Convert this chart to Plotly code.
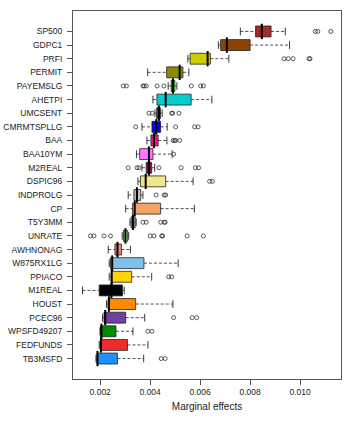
import plotly.graph_objects as go

# Variablen (von oben nach unten)
names = ['SP500', 'GDPC1', 'PRFI', 'PERMIT', 'PAYEMSLG', 'AHETPI', 'UMCSENT', 'CMRMTSPLLG',
         'BAA', 'BAA10YM', 'M2REAL', 'DSPIC96', 'INDPROLG', 'CP', 'T5Y3MM', 'UNRATE',
         'AWHNONAG', 'W875RX1LG', 'PPIACO', 'M1REAL', 'HOUST', 'PCEC96', 'WPSFD49207',
         'FEDFUNDS', 'TB3MSFD']

# Boxplot-Kennzahlen (Marginal effects)
lower = [0.00761, 0.00673, 0.00551, 0.00390, 0.00472, 0.00411, 0.00419, 0.00367,
         0.00387, 0.00345, 0.00367, 0.00351, 0.00312, 0.00302, 0.00319, 0.00288,
         0.00232, 0.00236, 0.00236, 0.00129, 0.00225, 0.00209, 0.00199, 0.00196, 0.00183]
q1 = [0.00822, 0.00682, 0.00560, 0.00466, 0.00484, 0.00427, 0.00426, 0.00407,
      0.00403, 0.00358, 0.00384, 0.00361, 0.00335, 0.00329, 0.00324, 0.00293,
      0.00259, 0.00241, 0.00244, 0.00196, 0.00231, 0.00215, 0.00201, 0.00200, 0.00187]
median = [0.00847, 0.00707, 0.00630, 0.00518, 0.00491, 0.00462, 0.00435, 0.00424,
          0.00415, 0.00395, 0.00395, 0.00382, 0.00347, 0.00338, 0.00331, 0.00301,
          0.00269, 0.00248, 0.00246, 0.00245, 0.00235, 0.00220, 0.00205, 0.00203, 0.00189]
q3 = [0.00884, 0.00800, 0.00641, 0.00531, 0.00499, 0.00564, 0.00441, 0.00442,
      0.00432, 0.00411, 0.00406, 0.00462, 0.00362, 0.00442, 0.00340, 0.00310,
      0.00285, 0.00375, 0.00326, 0.00289, 0.00342, 0.00302, 0.00263, 0.00309, 0.00269]
upper = [0.00941, 0.00958, 0.00715, 0.00555, 0.00507, 0.00647, 0.00448, 0.00468,
         0.00467, 0.00488, 0.00418, 0.00572, 0.00371, 0.00577, 0.00344, 0.00314,
         0.00321, 0.00512, 0.00406, 0.00296, 0.00491, 0.00378, 0.00331, 0.00391, 0.00374]

# Ausreisser je Variable
outliers = {
    'SP500': [0.01061, 0.01071, 0.01123],
    'PRFI': [0.00936, 0.00953, 0.00972, 0.01036, 0.01040],
    'PAYEMSLG': [0.00292, 0.00305, 0.00371, 0.00376, 0.00384, 0.00428, 0.00455,
                 0.00565, 0.00602, 0.00613],
    'UMCSENT': [0.00395, 0.00408, 0.00486, 0.00490, 0.00515],
    'CMRMTSPLLG': [0.00342, 0.00502, 0.00578, 0.00592],
    'BAA': [0.00492, 0.00498, 0.00502, 0.00518],
    'BAA10YM': [0.00494],
    'M2REAL': [0.00312, 0.00347, 0.00355, 0.00435, 0.00524, 0.00581, 0.00594],
    'DSPIC96': [0.00638, 0.00649],
    'INDPROLG': [0.00424, 0.00456, 0.00462],
    'T5Y3MM': [0.00371, 0.00384, 0.00442, 0.00456, 0.00460],
    'UNRATE': [0.00161, 0.00175, 0.00215, 0.00241, 0.00400, 0.00415, 0.00446,
               0.00450, 0.00548, 0.00613],
    'PPIACO': [0.00474, 0.00486],
    'PCEC96': [0.00494, 0.00568, 0.00586],
    'WPSFD49207': [0.00391, 0.00407],
    'TB3MSFD': [0.00444, 0.00460],
}

colors = ['#a52a2a', '#8b4500', '#cdcd00', '#8b8b00', '#00ee00', '#00cdcd', '#2f4f4f',
          '#0000ee', '#ee1289', '#ff77ff', '#8b0a50', '#f0e68c', '#bebebe', '#f4a460',
          '#a090b0', '#90ee90', '#f08080', '#7ec0ee', '#ffd700', '#000000', '#ff8c00',
          '#7040a0', '#008b00', '#ee2c2c', '#1e90ff']

xticks = [0.002, 0.004, 0.006, 0.008, 0.010]

fig = go.Figure()

# gestrichelte Whisker
wx, wy = [], []
for n, lo, a, b, hi in zip(names, lower, q1, q3, upper):
    wx += [lo, a, None, b, hi, None]
    wy += [n, n, None, n, n, None]
fig.add_trace(go.Scatter(x=wx, y=wy, mode='lines',
                         line=dict(color='#222', width=0.8, dash='3px,2px')))

# Staples
fig.add_trace(go.Scatter(x=lower + upper, y=names + names, mode='markers',
                         marker=dict(symbol='line-ns', size=5.5,
                                     line=dict(color='#222', width=0.9))))

# Boxen
fig.add_trace(go.Bar(y=names, x=[b - a for a, b in zip(q1, q3)], base=q1,
                     orientation='h', width=0.8,
                     marker=dict(color=colors, line=dict(color='#222', width=0.8))))

# Median
fig.add_trace(go.Scatter(x=median, y=names, mode='markers',
                         marker=dict(symbol='line-ns', size=11,
                                     line=dict(color='black', width=2))))

# Ausreisser
ox, oy = [], []
for n in names:
    for v in outliers.get(n, []):
        ox.append(v)
        oy.append(n)
fig.add_trace(go.Scatter(x=ox, y=oy, mode='markers',
                         marker=dict(symbol='circle-open', size=4, color='#333',
                                     line=dict(width=0.8))))

axis_style = dict(showline=True, mirror=True, linecolor='#555', linewidth=1,
                  ticks='outside', ticklen=5, tickcolor='#555',
                  showgrid=False, zeroline=False, automargin=False)

fig.update_layout(
    width=353, height=423,
    margin=dict(l=73, r=12, t=11, b=44),
    plot_bgcolor='white', paper_bgcolor='white',
    showlegend=False,
    font=dict(family='Liberation Sans, Arial, sans-serif', size=8.5, color='#222'),
)
fig.update_xaxes(range=[0.00091, 0.01164], tickvals=xticks, tickformat='.3f',
                 title=dict(text='Marginal effects', standoff=6), **axis_style)
fig.update_yaxes(type='category', categoryorder='array', categoryarray=names[::-1],
                 range=[-1.5, 25.5], ticklabelstandoff=3, **axis_style)

# Seitenrand des Browsers entfernen, damit die Grafik bei (0,0) beginnt
fig.write_html("out.html", config={'displayModeBar': False},
               post_script="document.body.style.margin='0px';")
